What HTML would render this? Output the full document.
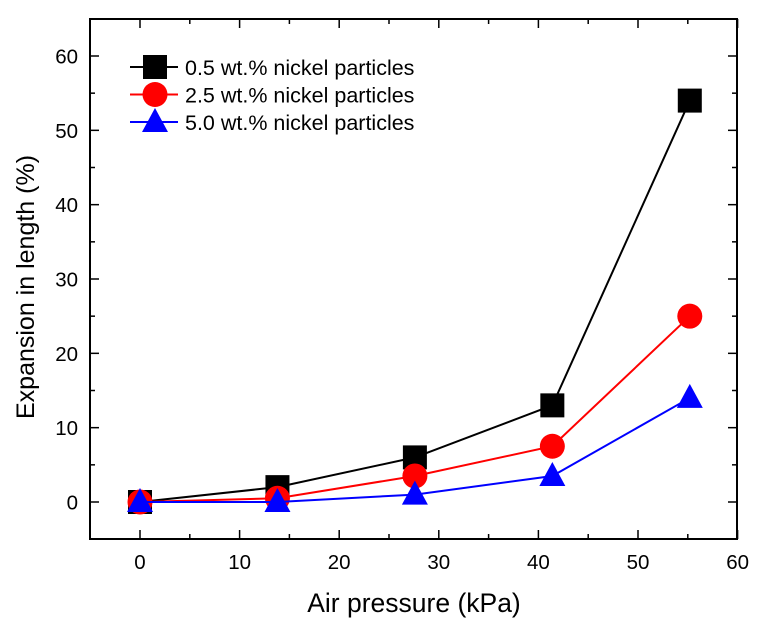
<!DOCTYPE html>
<html><head><meta charset="utf-8"><style>body{margin:0;background:#fff}svg{display:block;font-family:"Liberation Sans",Arial,sans-serif}</style></head>
<body>
<svg id="c" width="758" height="624"></svg>
<script>
const xVals=[0,13.8,27.6,41.4,55.2];
const s1=[0,2,6,13,54];
const s2=[0,0.5,3.5,7.5,25];
const s3=[0,0,1,3.5,14];
const xTicks=[0,10,20,30,40,50,60];
const yTicks=[0,10,20,30,40,50,60];
const names=["0.5 wt.% nickel particles","2.5 wt.% nickel particles","5.0 wt.% nickel particles"];
const L=90,R=737,T=19,B=539;
const X=v=>140+(v-0)*(737.6-140)/60;
const Y=v=>502-v*(502-56)/60;
const svg=document.getElementById('c');const NS='http://www.w3.org/2000/svg';
function mk(t,a,p){const e=document.createElementNS(NS,t);for(const k in a)e.setAttribute(k,a[k]);(p||svg).appendChild(e);return e;}
const frame=mk('rect',{x:L,y:T,width:R-L,height:B-T,fill:'none',stroke:'#000','stroke-width':2});


for(let v=-5;v<=65;v+=5){const y=Y(v);const len=v%10===0?9:5;
 mk('line',{x1:L,x2:L+len,y1:y,y2:y,stroke:'#000','stroke-width':1.5});
 mk('line',{x1:R,x2:R-len,y1:y,y2:y,stroke:'#000','stroke-width':1.5});}
for(let v=-5;v<=60;v+=5){const x=X(v);const len=v%10===0?9:5;
 mk('line',{x1:x,x2:x,y1:B,y2:B-len,stroke:'#000','stroke-width':1.5});
 mk('line',{x1:x,x2:x,y1:T,y2:T+len,stroke:'#000','stroke-width':1.5});}
xTicks.forEach(v=>{const t=mk('text',{x:X(v),y:569,'font-size':20.5,'text-anchor':'middle'});t.textContent=v;

});
yTicks.forEach(v=>{const t=mk('text',{x:78,y:Y(v)+7.5,'font-size':20.5,'text-anchor':'end'});t.textContent=v;

});
const xt=mk('text',{x:414,y:612,'font-size':26.5,'text-anchor':'middle'});xt.textContent='Air pressure (kPa)';


const yt=mk('text',{x:0,y:0,'font-size':25,'text-anchor':'middle',transform:'translate(34,287) rotate(-90)'});yt.textContent='Expansion in length (%)';


function marker(kind,x,y,col,p){
 if(kind==0)return mk('rect',{x:x-12,y:y-12,width:24,height:24,fill:col},p);
 if(kind==1)return mk('circle',{cx:x,cy:y,r:12.5,fill:col},p);
 return mk('polygon',{points:`${x},${y-14} ${x+13},${y+10} ${x-13},${y+10}`,fill:col},p);}
const series=[s1,s2,s3],cols=['#000','#f00','#00f'];
series.forEach((s,i)=>{const g=mk('g',{});
 
 
 mk('polyline',{points:s.map((v,j)=>X(xVals[j])+','+Y(v)).join(' '),fill:'none',stroke:cols[i],'stroke-width':2},g);
 s.forEach((v,j)=>{const m=marker(i,X(xVals[j]),Y(v),cols[i],g);
  
  });});
names.forEach((n,i)=>{const y=67+i*27.5;const g=mk('g',{});
 
 
 mk('line',{x1:130,x2:178,y1:y,y2:y,stroke:cols[i],'stroke-width':2},g);
 marker(i,155,y,cols[i],g);
 const t=mk('text',{x:185,y:y+8,'font-size':21.5},g);t.textContent=n;});
</script>
</body></html>
